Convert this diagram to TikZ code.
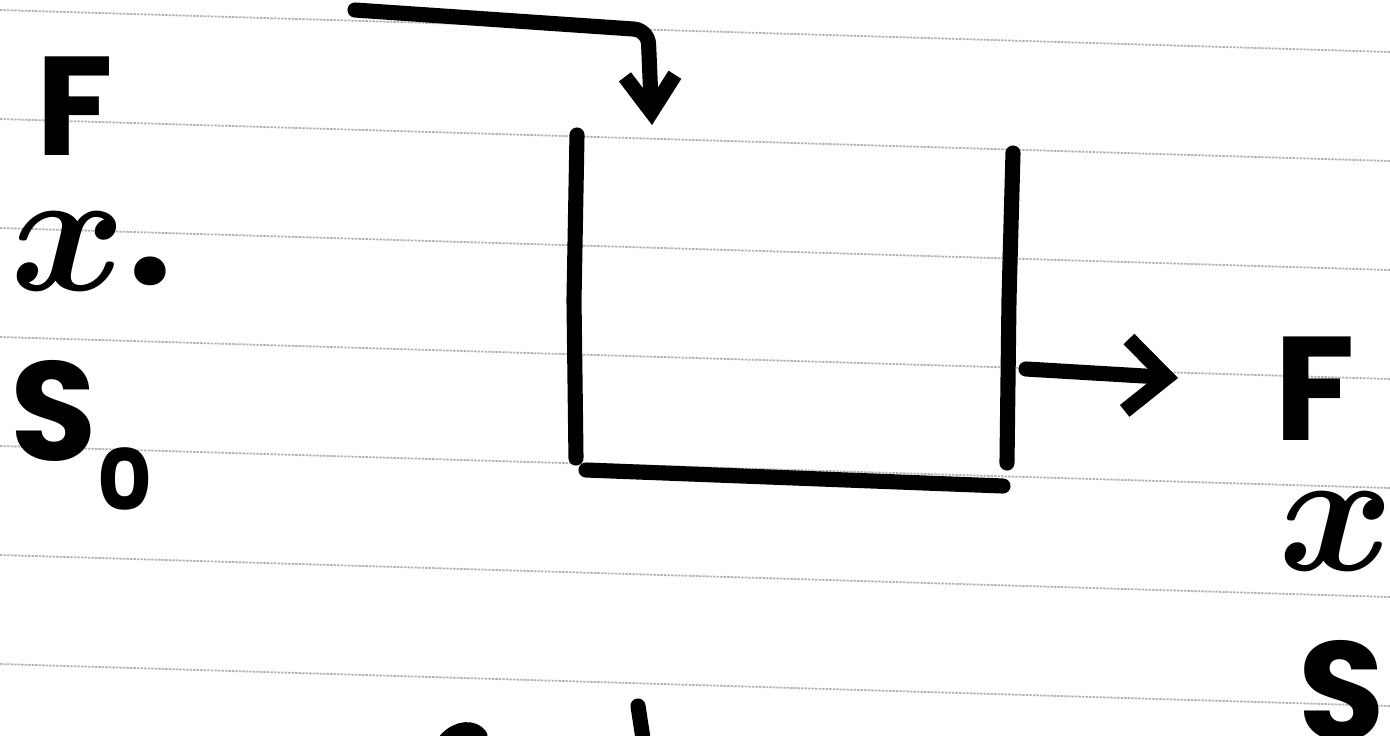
\documentclass[tikz,border=0pt]{standalone}
\usepackage{fix-cm}
\usepackage{fontspec}
\setmainfont{Poppins}
\usepackage{tikz}
\usetikzlibrary{arrows.meta}

\begin{document}
\begin{tikzpicture}[
    x=1cm, y=1cm,
    rule/.style={gray!60, line width=0.5pt, dash pattern=on 0.7pt off 0.3pt},
    stroke/.style={line width=4.3pt, line cap=round, line join=round},
    lbl/.style={inner sep=0pt, font=\fontsize{40}{40}\selectfont\bfseries},
    mathx/.style={inner sep=0pt, font=\fontsize{50}{50}\selectfont\boldmath},
  ]
  \clip (0,0) rectangle (13.9,-7.35);

  % ruled paper
  \foreach \k in {0,...,6}
    \draw[rule] (0,{-0.10-1.09*\k}) -- (13.9,{-0.52-1.09*\k});

  % labels of the feed
  \node[lbl, anchor=base west] (Fin) at (0.36,-1.55) {F};
  \node[mathx, anchor=base west] (xin) at (0.10,-2.90)
    {$x$\kern0.02cm\raisebox{0.06cm}{\fontsize{44}{44}\selectfont\bfseries.}};
  \node[lbl, anchor=base west] (Sin) at (0.10,-4.60)
    {S\raisebox{-0.5cm}{\fontsize{24}{24}\selectfont 0}};

  % labels of the outflow
  \node[lbl, anchor=base west, font=\fontsize{42}{42}\selectfont\bfseries] (Fout) at (12.74,-4.40) {F};
  \node[mathx, anchor=base west] (xout) at (12.78,-5.70) {$x$};
  \node[lbl, anchor=base west] (Sout) at (12.98,-7.40) {S};

  % the vessel
  \coordinate (lefttop) at (5.77,-1.35);
  \coordinate (leftbot) at (5.76,-4.58);
  \coordinate (botleft) at (5.86,-4.70);
  \coordinate (botright) at (10.03,-4.86);
  \coordinate (righttop) at (10.13,-1.53);
  \coordinate (rightbot) at (10.07,-4.63);
  \draw[stroke] (lefttop) -- (5.74,-3.0) -- (leftbot);
  \draw[stroke] (botleft) -- (botright);
  \draw[stroke] (righttop) -- (10.09,-3.0) -- (rightbot);

  % feed and outflow
  \coordinate (feedtop) at (3.55,-0.10);
  \coordinate (feedbend) at (6.48,-0.30);
  \coordinate (feedend) at (6.52,-1.25);
  \draw[stroke, rounded corners=4pt, -{Straight Barb[length=3.6mm, width=5mm]}]
    (feedtop) -- (feedbend) -- (feedend);
  \coordinate (outstart) at (10.26,-3.69);
  \coordinate (outend) at (11.78,-3.78);
  \draw[stroke, -{Straight Barb[length=4mm, width=7.2mm]}] (outstart) -- (outend);

  % strokes cut off at the bottom
  \draw[stroke] (4.46,-7.40) .. controls (4.58,-7.27) and (4.74,-7.27) .. (4.80,-7.36);
  \draw[stroke] (6.38,-7.06) -- (6.44,-7.45);
\end{tikzpicture}
\end{document}
